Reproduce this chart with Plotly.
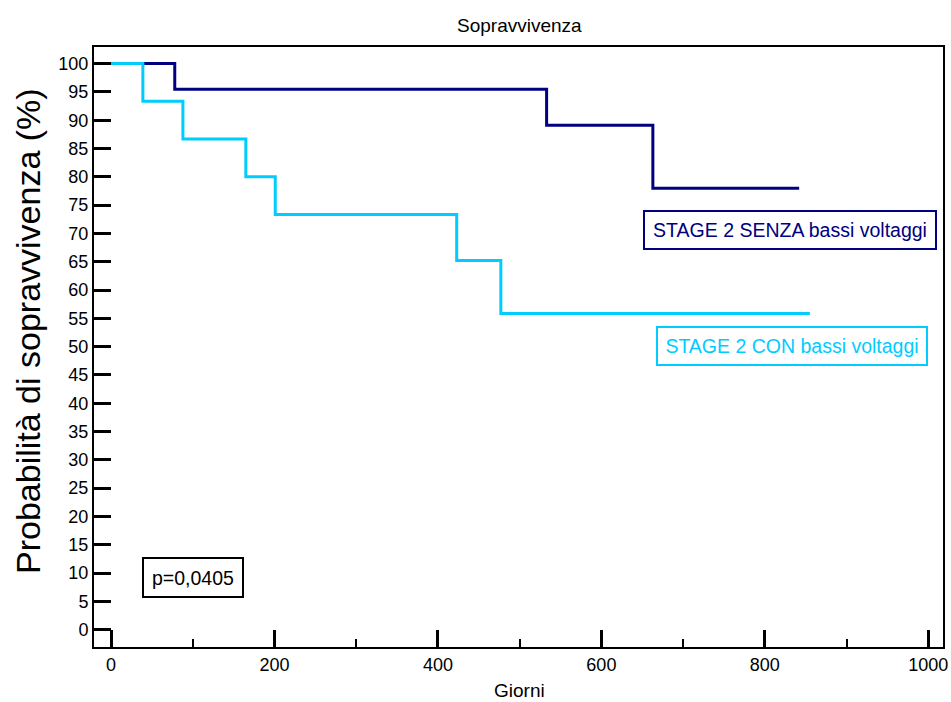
import plotly.graph_objects as go

# Kaplan-Meier step data (days, survival %)
senza_days = [0, 78, 533, 663, 842]
senza_surv = [100, 95.45, 89.1, 77.96, 77.96]

con_days = [0, 39, 88, 165, 201, 423, 477, 855]
con_surv = [100, 93.33, 86.67, 80.0, 73.33, 65.19, 55.87, 55.87]

x_ticks = [0, 200, 400, 600, 800, 1000]
y_ticks = list(range(0, 101, 5))

NAVY = "#000080"
CYAN = "#00CCFF"
FONT = "Liberation Sans, Arial, sans-serif"

W, H = 951, 702
PLOT_X0, PLOT_X1 = 94, 943      # screen px
PLOT_Y0, PLOT_Y1 = 47, 647      # screen px
L = PLOT_X0
T = PLOT_Y0
PW = PLOT_X1 - PLOT_X0
PH = PLOT_Y1 - PLOT_Y0
R = W - L - PW
B = H - T - PH


def px(xs):
    return (xs - PLOT_X0) / PW


def py(ys):
    return (PLOT_Y1 - ys) / PH


fig = go.Figure()
fig.add_trace(go.Scatter(x=senza_days, y=senza_surv, mode="lines",
                         line=dict(shape="hv", color=NAVY, width=3),
                         name="STAGE 2 SENZA bassi voltaggi"))
fig.add_trace(go.Scatter(x=con_days, y=con_surv, mode="lines",
                         line=dict(shape="hv", color=CYAN, width=3),
                         name="STAGE 2 CON bassi voltaggi"))

box_common = dict(xref="paper", yref="paper", showarrow=False,
                  xanchor="center", yanchor="middle",
                  borderwidth=2, borderpad=0, bgcolor="white")
fig.add_annotation(x=px(790), y=py(230), text="STAGE 2 SENZA bassi voltaggi",
                   font=dict(family=FONT, size=19.5, color=NAVY),
                   bordercolor=NAVY, width=290, height=36, **box_common)
fig.add_annotation(x=px(792), y=py(346), text="STAGE 2 CON bassi voltaggi",
                   font=dict(family=FONT, size=19.5, color=CYAN),
                   bordercolor=CYAN, width=268, height=36, **box_common)
fig.add_annotation(x=px(193), y=py(577), text="p=0,0405",
                   font=dict(family=FONT, size=19.5, color="black"),
                   bordercolor="black", width=98, height=37, **box_common)

# Chart title and axis titles
text_common = dict(xref="paper", yref="paper", showarrow=False,
                   xanchor="center", yanchor="middle")
fig.add_annotation(x=px(519), y=py(25), text="Sopravvivenza",
                   font=dict(family=FONT, size=19, color="black"), **text_common)
fig.add_annotation(x=px(519), y=py(690), text="Giorni",
                   font=dict(family=FONT, size=19, color="black"), **text_common)
fig.add_annotation(x=px(28), y=py(331), text="Probabilità di sopravvivenza (%)",
                   textangle=-90,
                   font=dict(family=FONT, size=34, color="black"), **text_common)

fig.update_layout(
    width=W, height=H,
    margin=dict(l=L, r=R, t=T, b=B, autoexpand=False),
    paper_bgcolor="white", plot_bgcolor="white",
    showlegend=False,
    font=dict(family=FONT, color="black"),
)

fig.update_xaxes(
    range=[-20.8, 1018], tickvals=x_ticks, ticktext=[str(v) for v in x_ticks],
    ticks="inside", ticklen=17, tickwidth=3, tickcolor="black",
    minor=dict(dtick=100, tick0=0, ticks="inside", ticklen=8, tickwidth=2, tickcolor="black"),
    showline=True, linewidth=2, linecolor="black", mirror=True,
    showgrid=False, zeroline=False, automargin=False,
    tickfont=dict(family=FONT, size=18, color="black"),
)
fig.update_yaxes(
    range=[-3.07, 102.93], tickvals=y_ticks, ticktext=[str(v) for v in y_ticks],
    ticks="inside", ticklen=17, tickwidth=3, tickcolor="black",
    showline=True, linewidth=2, linecolor="black", mirror=True,
    showgrid=False, zeroline=False, automargin=False,
    tickfont=dict(family=FONT, size=18, color="black"),
)

fig.write_html("out.html", config={"displayModeBar": False},
               post_script="document.body.style.margin='0';document.body.style.overflow='hidden';")
